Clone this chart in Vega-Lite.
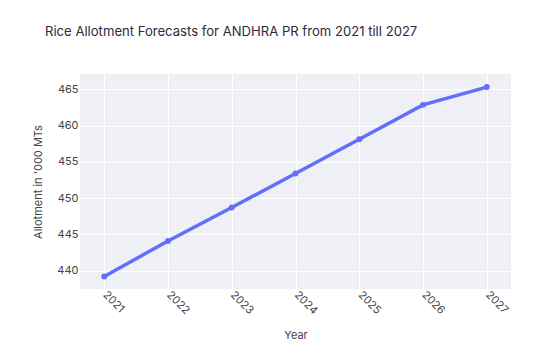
{
  "$schema": "https://vega.github.io/schema/vega-lite/v6.json",
  "width": 431,
  "height": 215,
  "autosize": {"type": "none"},
  "padding": {"left": 80, "top": 74, "right": 41, "bottom": 64},
  "background": "white",
  "config": {
    "font": "Inter",
    "view": {"fill": "#eef0f5", "stroke": null}
  },
  "title": {
    "text": "Rice Allotment Forecasts for ANDHRA PR from 2021 till 2027",
    "anchor": "start",
    "frame": "group",
    "dx": -35,
    "offset": 35,
    "fontSize": 13.1,
    "fontWeight": "normal",
    "color": "#2b2b3a",
    "font": "Inter"
  },
  "data": {
    "values": [
      {"Year": 2021, "Allotment": 439.2},
      {"Year": 2022, "Allotment": 444.1},
      {"Year": 2023, "Allotment": 448.7},
      {"Year": 2024, "Allotment": 453.4},
      {"Year": 2025, "Allotment": 458.1},
      {"Year": 2026, "Allotment": 462.85},
      {"Year": 2027, "Allotment": 465.3}
    ]
  },
  "mark": {"type": "line", "color": "#636efa", "strokeWidth": 3.5, "point": {"filled": true, "color": "#636efa", "size": 35}},
  "encoding": {
    "x": {
      "field": "Year",
      "type": "quantitative",
      "scale": {"domain": [2020.62, 2027.38], "nice": false, "zero": false},
      "axis": {
        "values": [2021, 2022, 2023, 2024, 2025, 2026, 2027],
        "format": "d",
        "labelAngle": 45,
        "labelAlign": "left",
        "labelBaseline": "middle",
        "labelFontSize": 11,
        "labelColor": "#444",
        "labelPadding": 4,
        "ticks": false,
        "domain": false,
        "grid": true,
        "gridColor": "white",
        "gridWidth": 1,
        "title": "Year",
        "titleFontSize": 11,
        "titleFontWeight": "normal",
        "titleColor": "#444",
        "titlePadding": 14
      }
    },
    "y": {
      "field": "Allotment",
      "type": "quantitative",
      "scale": {"domain": [437.48, 467.1], "nice": false, "zero": false},
      "axis": {
        "values": [440, 445, 450, 455, 460, 465],
        "labelFontSize": 11,
        "labelColor": "#444",
        "labelPadding": 2,
        "ticks": false,
        "domain": false,
        "grid": true,
        "gridColor": "white",
        "gridWidth": 1,
        "title": "Allotment in '000 MTs",
        "titleFontSize": 11,
        "titleFontWeight": "normal",
        "titleColor": "#444",
        "titlePadding": 13
      }
    }
  }
}
